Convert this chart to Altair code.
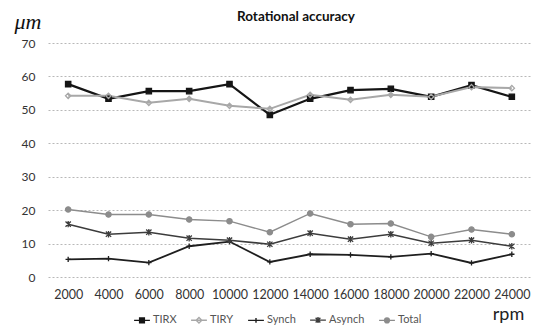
import altair as alt
import pandas as pd

rpm = ["2000", "4000", "6000", "8000", "10000", "12000", "14000", "16000",
       "18000", "20000", "22000", "24000"]
series = ["TIRX", "TIRY", "Synch", "Asynch", "Total"]
tirx = [57.7, 53.3, 55.6, 55.6, 57.7, 48.5, 53.3, 55.9, 56.3, 53.9, 57.4, 53.9]
tiry = [54.2, 54.2, 52.1, 53.3, 51.2, 50.3, 54.5, 53.0, 54.5, 53.9, 56.8, 56.5]
synch = [5.3, 5.5, 4.3, 9.2, 10.6, 4.5, 6.8, 6.6, 6.0, 7.0, 4.2, 6.8]
asynch = [15.8, 12.8, 13.4, 11.6, 11.0, 9.8, 13.1, 11.3, 12.8, 10.1, 11.0, 9.2]
total = [20.2, 18.7, 18.7, 17.2, 16.7, 13.4, 19.0, 15.8, 16.0, 12.0, 14.2, 12.8]
y_ticks = [0, 10, 20, 30, 40, 50, 60, 70]
chart_title = ["Rotational accuracy"]
unit_label = ["μm"]

values = {"TIRX": tirx, "TIRY": tiry, "Synch": synch, "Asynch": asynch, "Total": total}
rows = []
for s in series:
    for r, v in zip(rpm, values[s]):
        rows.append({"rpm": r, "series": s, "value": v})
df = pd.DataFrame(rows)

colors = ["#151515", "#a8a8a8", "#1e1e1e", "#3c3c3c", "#8c8c8c"]
fills = ["#151515", "transparent", "transparent", "transparent", "#8c8c8c"]
widths = [2.2, 1.4, 2.2, 1.6, 1.4]
marker_shapes = [
    "square",
    "M0,-1L1,0L0,1L-1,0Z",
    "M-1,0H1M0,-1V1",
    "M-1,-1L1,1M-1,1L1,-1M0,-1.2V1.2",
    "circle",
]
legend_shapes = [
    "M-1,0H1M-0.3,-0.3H0.3V0.3H-0.3Z",
    "M-1,0H1M0,-0.35L0.35,0L0,0.35L-0.35,0Z",
    "M-1,0H1M0,-0.3V0.3",
    "M-1,0H1M-0.3,-0.3L0.3,0.3M-0.3,0.3L0.3,-0.3M0,-0.38V0.38",
    "M-1,0H1M-0.3,0A0.3,0.3 0 1,0 0.3,0A0.3,0.3 0 1,0 -0.3,0Z",
]

x_enc = alt.X("rpm:O", sort=rpm,
              scale=alt.Scale(type="point", padding=0.5),
              axis=alt.Axis(title="rpm", labelAngle=0, domain=False, ticks=False,
                            grid=False, labelFontSize=12.5, labelPadding=11,
                            labelColor="#333", labelFont="Lato",
                            titleFont="Lato", titleFontSize=18, titleFontWeight="normal",
                            titleColor="#222", titleX=460, titleY=42,
                            titleAlign="center", titleBaseline="alphabetic"))
y_enc = alt.Y("value:Q",
              scale=alt.Scale(domain=[0, 70], nice=False),
              axis=alt.Axis(title=None, values=y_ticks, domain=False, ticks=False,
                            grid=True, gridColor="#b8b8b8", gridDash=[2, 2],
                            gridWidth=1, labelFontSize=12, labelPadding=13,
                            labelColor="#333", labelFont="Lato"))

base = alt.Chart(df)

lines = base.mark_line().encode(
    x=x_enc, y=y_enc,
    color=alt.Color("series:N", scale=alt.Scale(domain=series, range=colors), legend=None),
    strokeWidth=alt.StrokeWidth("series:N", scale=alt.Scale(domain=series, range=widths),
                                legend=None),
    detail="series:N",
)

points = base.mark_point(filled=False, size=28, strokeWidth=1.3, opacity=1).encode(
    x=x_enc, y=y_enc,
    color=alt.Color("series:N", scale=alt.Scale(domain=series, range=colors), legend=None),
    fill=alt.Fill("series:N", scale=alt.Scale(domain=series, range=fills), legend=None),
    shape=alt.Shape("series:N", scale=alt.Scale(domain=series, range=marker_shapes),
                    legend=None),
)

legend_layer = base.transform_filter("false").mark_point(filled=False, opacity=1).encode(
    x=x_enc, y=y_enc,
    color=alt.Color("series:N", scale=alt.Scale(domain=series, range=colors), title=None,
                    legend=alt.Legend(orient="none", legendX=85, legendY=268,
                                      direction="horizontal", symbolSize=250,
                                      symbolStrokeWidth=1.4, labelFontSize=11,
                                      labelFont="Lato", labelColor="#555",
                                      columnPadding=11, labelOffset=2)),
    fill=alt.Fill("series:N", scale=alt.Scale(domain=series, range=fills), title=None),
    shape=alt.Shape("series:N", scale=alt.Scale(domain=series, range=legend_shapes),
                    title=None),
)

title_layer = alt.Chart(pd.DataFrame({"t": chart_title})).mark_text(
    font="Lato", fontSize=13.5, fontWeight="bold", color="#111",
    align="center", baseline="alphabetic"
).encode(x=alt.value(248), y=alt.value(-22), text="t:N")

unit_layer = alt.Chart(pd.DataFrame({"u": unit_label})).mark_text(
    font="Liberation Serif", fontSize=22, fontStyle="italic", color="#111",
    align="center", baseline="alphabetic"
).encode(x=alt.value(-20), y=alt.value(-14), text="u:N")

chart = alt.layer(lines, points, legend_layer, title_layer, unit_layer).resolve_scale(
    color="independent", shape="independent", fill="independent"
).properties(
    width=484, height=234,
    autosize=alt.AutoSizeParams(type="none"),
    padding={"left": 40, "top": 35, "right": 4, "bottom": 50},
).configure_view(stroke=None)

chart.save("out.html", embed_options={"renderer": "svg", "actions": False})
